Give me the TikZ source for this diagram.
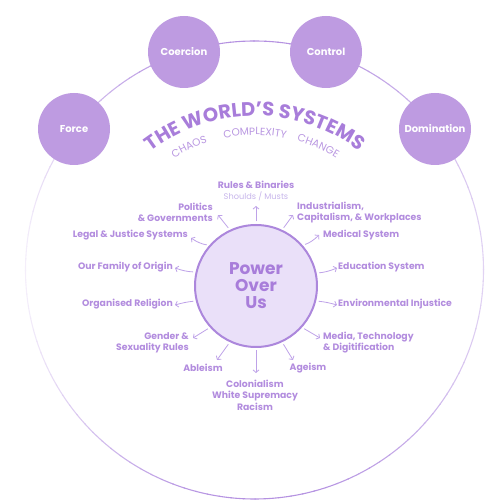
\documentclass[tikz,border=0pt]{standalone}
\usepackage{fontspec}
\setmainfont{Poppins}
\usetikzlibrary{arrows.meta,decorations.text}
\definecolor{lav}{RGB}{190,155,225}
\definecolor{ring}{RGB}{180,145,225}
\definecolor{lbl}{RGB}{178,140,222}
\definecolor{sublbl}{RGB}{198,180,234}
\definecolor{ttl}{RGB}{168,125,218}
\definecolor{pfill}{RGB}{234,224,249}
\definecolor{pline}{RGB}{172,135,220}
\definecolor{arr}{RGB}{190,162,232}
\begin{document}
\begin{tikzpicture}[x=1pt,y=1pt,
 outer/.style={circle,fill=lav,minimum size=72pt,inner sep=0pt,text=white,font=\fontsize{10}{12}\selectfont\bfseries},
 lab/.style={text=lbl,font=\fontsize{9.3}{11}\selectfont\bfseries,inner sep=0pt},
 sublab/.style={text=sublbl,font=\fontsize{8.2}{9}\selectfont,inner sep=0pt},
 conn/.style={arr,line width=0.8pt,-{Straight Barb[length=2.6pt,width=6pt]},shorten <=2.5pt}
]
\useasboundingbox (0,0) rectangle (500,500);
% outer ring with fading
\foreach \a in {0,3,...,357}{
  \pgfmathsetmacro\t{cos(\a)<0 ? 15+85*abs(sin(\a))^2 : 40+60*abs(sin(\a))^2}
  \draw[ring!\t!white,line width=1.1pt] (254.5,230) ++(\a:229) arc[start angle=\a,end angle=\a+3.3,radius=229];
}
% outer nodes
\node[outer] (force) at (74,371) {Force};
\node[outer] (coercion) at (184,448) {Coercion};
\node[outer] (control) at (326,448) {Control};
\node[outer] (domination) at (435,371) {Domination};
% title on arc
\path[decorate,decoration={text along path,text align=center,
  text={|\fontsize{19.5}{19.5}\selectfont\bfseries\color{ttl}|THE WORLD’S SYSTEMS}}]
  (93.37,270.83) arc[start angle=160,end angle=20,radius=172];
\path[decorate,decoration={text along path,text align=center,
  text={|\fontsize{10.5}{10.5}\selectfont\color{ttl!80!white}|CHAOS}}]
  (146.81,320.19) arc[start angle=135,end angle=95,radius=153];
\path[decorate,decoration={text along path,text align=center,
  text={|\fontsize{10.5}{10.5}\selectfont\color{ttl!80!white}|COMPLEXITY}}]
  (202.67,355.77) arc[start angle=110,end angle=70,radius=153];
\path[decorate,decoration={text along path,text align=center,
  text={|\fontsize{10.5}{10.5}\selectfont\color{ttl!80!white}|CHANGE}}]
  (265.67,364.63) arc[start angle=86,end angle=46,radius=153];
% centre
\node[circle,fill=pfill,draw=pline,line width=2pt,minimum size=122pt,inner sep=0pt,align=center,text=ttl,font=\fontsize{17}{17}\selectfont\bfseries] (pc) at (256,214) {Power\\Over\\Us};
% labels
\node[lab] (rules) at (256,315) {Rules \& Binaries};
\node[sublab] (shoulds) at (256,303.5) {Shoulds / Musts};
\node[lab,anchor=east,align=right] (politics) at (213,287.5) {Politics\\\& Governments};
\node[lab,anchor=west,align=left] (industry) at (297,287.5) {Industrialism,\\Capitalism, \& Workplaces};
\node[lab,anchor=east] (legal) at (188,265) {Legal \& Justice Systems};
\node[lab,anchor=west] (medical) at (323,265) {Medical System};
\node[lab,anchor=east] (family) at (173,233) {Our Family of Origin};
\node[lab,anchor=west] (education) at (338,233) {Education System};
\node[lab,anchor=east] (religion) at (173,196) {Organised Religion};
\node[lab,anchor=west] (environment) at (338,196) {Environmental Injustice};
\node[lab,anchor=east,align=right] (gender) at (189,157.5) {Gender \&\\Sexuality Rules};
\node[lab,anchor=west,align=left] (media) at (323,157.5) {Media, Technology\\\& Digitification};
\node[lab] (ableism) at (203,132) {Ableism};
\node[lab] (ageism) at (308,132) {Ageism};
\node[lab,align=center,font=\fontsize{9.3}{11.5}\selectfont\bfseries] (colonial) at (255,105) {Colonialism\\White Supremacy\\Racism};
% arrow heads
\coordinate (hUp) at (256,294);
\coordinate (hPol) at (218,285);
\coordinate (hInd) at (293,285);
\coordinate (hLeg) at (191,262);
\coordinate (hMed) at (319,265);
\coordinate (hFam) at (175,232);
\coordinate (hEdu) at (337,232);
\coordinate (hRel) at (175,195);
\coordinate (hEnv) at (337,195);
\coordinate (hGen) at (193,162);
\coordinate (hMedia) at (320,162);
\coordinate (hAbl) at (217,140);
\coordinate (hAge) at (293,140);
\coordinate (hDown) at (256,127);
% arrows
\draw[conn] (pc.90) -- (hUp);
\draw[conn] (pc.115) -- (hPol);
\draw[conn] (pc.65) -- (hInd);
\draw[conn] (pc.139) to[bend left=12] (hLeg);
\draw[conn] (pc.41) to[bend right=12] (hMed);
\draw[conn] (pc.167) to[bend left=8] (hFam);
\draw[conn] (pc.12) to[bend right=8] (hEdu);
\draw[conn] (pc.194) to[bend right=5] (hRel);
\draw[conn] (pc.346) to[bend left=5] (hEnv);
\draw[conn] (pc.222) -- (hGen);
\draw[conn] (pc.318) -- (hMedia);
\draw[conn] (pc.245) -- (hAbl);
\draw[conn] (pc.295) -- (hAge);
\draw[conn] (pc.270) -- (hDown);
\end{tikzpicture}
\end{document}
